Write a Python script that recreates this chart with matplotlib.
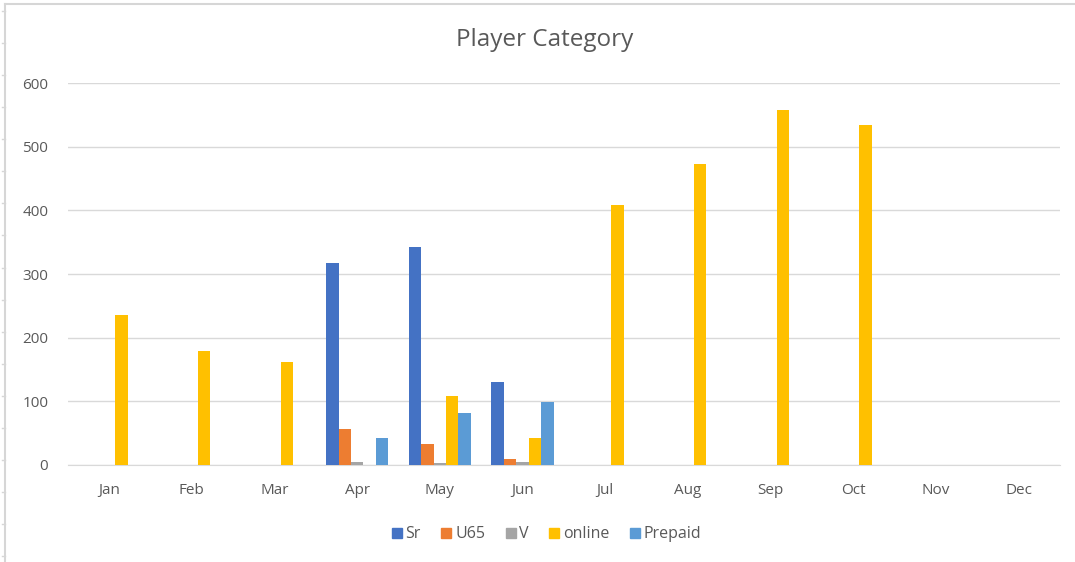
import numpy as np
import matplotlib
matplotlib.use("Agg")
import matplotlib.pyplot as plt
from matplotlib.lines import Line2D

months = ["Jan", "Feb", "Mar", "Apr", "May", "Jun", "Jul", "Aug", "Sep", "Oct", "Nov", "Dec"]

sr = [0, 0, 0, 317, 342, 130, 0, 0, 0, 0, 0, 0]
u65 = [0, 0, 0, 56, 33, 10, 0, 0, 0, 0, 0, 0]
v = [0, 0, 0, 5, 3, 5, 0, 0, 0, 0, 0, 0]
online = [235, 179, 161, 0, 109, 43, 409, 472, 557, 534, 0, 0]
prepaid = [0, 0, 0, 43, 81, 99, 0, 0, 0, 0, 0, 0]

series_names = ["Sr", "U65", "V", "online", "Prepaid"]
series_colors = ["#4472C4", "#ED7D31", "#A5A5A5", "#FFC000", "#5B9BD5"]

plt.rcParams['font.family'] = ['Open Sans', 'DejaVu Sans']
text_gray = "#595959"
grid_gray = "#D9D9D9"

fig = plt.figure(figsize=(10.75, 5.62), dpi=100)
ax = fig.add_axes([0.063, 0.1726, 0.923, 0.6797])

x = np.arange(len(months))
width = 0.15
for i, (vals, name, col) in enumerate(zip([sr, u65, v, online, prepaid], series_names, series_colors)):
    ax.bar(x + (i - 2) * width, vals, width, color=col, label=name, zorder=3)

ax.set_xlim(-0.5, len(months) - 0.5)
ax.set_ylim(0, 600)
ax.set_yticks(range(0, 601, 100))
ax.set_xticks(x)
ax.set_xticklabels(months)
ax.tick_params(axis='both', length=0, labelsize=11, colors=text_gray)
ax.tick_params(axis='x', pad=13)
ax.tick_params(axis='y', pad=14)
ax.grid(axis='y', color=grid_gray, linewidth=1, zorder=0)
for s in ["top", "right", "left"]:
    ax.spines[s].set_visible(False)
ax.spines["bottom"].set_color(grid_gray)

fig.text(0.507, 0.928, "Player Category", ha='center', va='center', fontsize=17.5, color=text_gray)

handles = [Line2D([0], [0], marker='s', linestyle='none', markersize=7,
                  markerfacecolor=c, markeredgecolor=c) for c in series_colors]
fig.legend(handles, series_names, loc='center', bbox_to_anchor=(0.507, 0.049), ncol=5,
           frameon=False, fontsize=11.5, handletextpad=0.05, columnspacing=1.1,
           labelcolor=text_gray, handlelength=1.0)

# outer frame of the worksheet chart area
frame_col = "#D6D6D6"
fig.add_artist(Line2D([0.005, 1.0], [0.993, 0.993], color=frame_col, linewidth=1.5))
fig.add_artist(Line2D([0.005, 0.005], [0.0, 0.993], color=frame_col, linewidth=1.5))
for yy in np.arange(0.98, 0.0, -0.057):
    fig.add_artist(Line2D([0.002, 0.005], [yy, yy], color=frame_col, linewidth=1))

fig.savefig("out.png", dpi=100)
